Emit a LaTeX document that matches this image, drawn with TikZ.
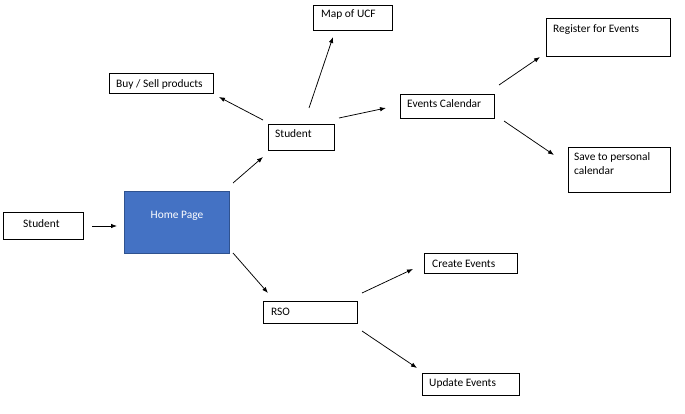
\documentclass[tikz,border=0pt]{standalone}
\usepackage{fontspec}
\setmainfont{Carlito}
\usetikzlibrary{arrows.meta}
\definecolor{homefill}{HTML}{4472C4}
\definecolor{homeline}{HTML}{2F528F}
\tikzset{
  box/.style={draw=black, line width=0.9pt, inner sep=0pt, outer sep=0pt},
  homebox/.style={box, fill=homefill, draw=homeline},
  lbl/.style={inner sep=0pt, font=\fontsize{11.4}{13.5}\selectfont, align=left},
  arr/.style={line width=0.75pt, -{Latex[length=6pt,width=4.5pt]}}
}
\begin{document}
\begin{tikzpicture}[x=1pt,y=-1pt]
\useasboundingbox (0,0) rectangle (685,414);
% boxes
\node[box, minimum width=80pt, minimum height=27pt] (stuL) at (43,225.5) {};
\node[homebox, minimum width=105pt, minimum height=62pt] (home) at (176.5,222) {};
\node[box, minimum width=104pt, minimum height=20pt] (buy) at (161,83) {};
\node[box, minimum width=66pt, minimum height=26pt] (stuM) at (301,137) {};
\node[box, minimum width=79pt, minimum height=25pt] (map) at (352.5,17.5) {};
\node[box, minimum width=94pt, minimum height=24pt] (events) at (447,106) {};
\node[box, minimum width=124pt, minimum height=38pt] (reg) at (608,37) {};
\node[box, minimum width=102pt, minimum height=45pt] (save) at (619,169.5) {};
\node[box, minimum width=94pt, minimum height=22pt] (rso) at (310,312) {};
\node[box, minimum width=93pt, minimum height=20pt] (create) at (470.5,263) {};
\node[box, minimum width=97pt, minimum height=22pt] (update) at (470.5,384) {};
% labels
\node[lbl, anchor=west] (stuLt) at (23,224) {Student};
\node[lbl, anchor=center, text=white] (homet) at (177,216) {Home Page};
\node[lbl, anchor=west] (buyt) at (116,84) {Buy / Sell products};
\node[lbl, anchor=west] (stuMt) at (275,134) {Student};
\node[lbl, anchor=west] (mapt) at (321,15) {Map of UCF};
\node[lbl, anchor=west] (eventst) at (407,104) {Events Calendar};
\node[lbl, anchor=west] (regt) at (553,30) {Register for Events};
\node[lbl, anchor=west] (savet) at (574,163.5) {Save to personal\\calendar};
\node[lbl, anchor=west] (rsot) at (271,312) {RSO};
\node[lbl, anchor=west] (createt) at (432,264) {Create Events};
\node[lbl, anchor=west] (updatet) at (429,383) {Update Events};
% connector ends
\coordinate (a1s) at (92,226);  \coordinate (a1e) at (117,226);
\coordinate (a2s) at (233,183); \coordinate (a2e) at (263,157);
\coordinate (a3s) at (263,120); \coordinate (a3e) at (219,97);
\coordinate (a4s) at (309,108); \coordinate (a4e) at (333,37);
\coordinate (a5s) at (339,118); \coordinate (a5e) at (386,108);
\coordinate (a6s) at (499,85);  \coordinate (a6e) at (540,57);
\coordinate (a7s) at (504,121); \coordinate (a7e) at (554,155);
\coordinate (a8s) at (233,253); \coordinate (a8e) at (268,293);
\coordinate (a9s) at (362,293); \coordinate (a9e) at (413,269);
\coordinate (a10s) at (362,331); \coordinate (a10e) at (417,368);
% connectors
\draw[arr] (a1s) -- (a1e);
\draw[arr] (a2s) -- (a2e);
\draw[arr] (a3s) -- (a3e);
\draw[arr] (a4s) -- (a4e);
\draw[arr] (a5s) -- (a5e);
\draw[arr] (a6s) -- (a6e);
\draw[arr] (a7s) -- (a7e);
\draw[arr] (a8s) -- (a8e);
\draw[arr] (a9s) -- (a9e);
\draw[arr] (a10s) -- (a10e);
\end{tikzpicture}
\end{document}
